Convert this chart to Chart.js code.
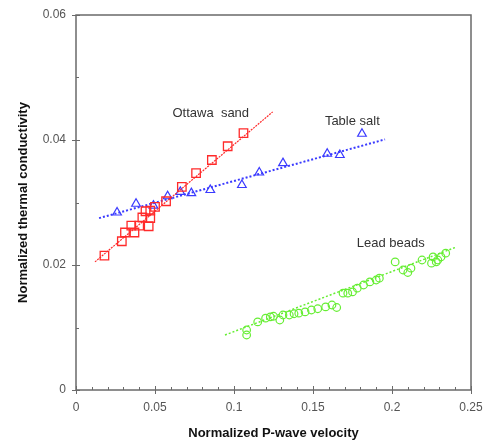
<!DOCTYPE html>
<html lang="en">
<head>
  <meta charset="UTF-8">
  <title>Thermal conductivity vs P-wave velocity</title>
  <style>
    html, body { margin: 0; padding: 0; background: white; }
    .chartBox { position: relative; width: 486px; height: 441px; }
  </style>
</head>
<body>
  <div class="chartBox">
    <canvas id="myChart" width="486" height="441"></canvas>
  </div>

<script src="https://cdn.jsdelivr.net/npm/chart.js/dist/chart.umd.min.js"></script>
<script>
  // Ottawa sand (squares)
  const sandX = [0.018, 0.029, 0.031, 0.035, 0.037, 0.040, 0.042, 0.044, 0.046, 0.047, 0.047, 0.050, 0.057, 0.067, 0.076, 0.086, 0.096, 0.106];
  const sandY = [0.0215, 0.0238, 0.0252, 0.0263, 0.0252, 0.0263, 0.0276, 0.0286, 0.0262, 0.0275, 0.0287, 0.0293, 0.0302, 0.0325, 0.0347, 0.0368, 0.0390, 0.0411];
  const sandFitX = [0.012, 0.1245];
  const sandFitY = [0.0205, 0.0445];

  // Table salt (triangles)
  const saltX = [0.026, 0.038, 0.049, 0.058, 0.066, 0.073, 0.085, 0.105, 0.116, 0.131, 0.159, 0.167, 0.181];
  const saltY = [0.0284, 0.0298, 0.0295, 0.0310, 0.0317, 0.0315, 0.0320, 0.0328, 0.0348, 0.0363, 0.0378, 0.0376, 0.0410];
  const saltFitX = [0.0146, 0.1956];
  const saltFitY = [0.0275, 0.0401];

  // Lead beads (circles)
  const leadX = [0.108, 0.108, 0.115, 0.120, 0.123, 0.125, 0.129, 0.131, 0.135, 0.138, 0.141, 0.145, 0.149, 0.153, 0.158, 0.162, 0.165,
                 0.169, 0.172, 0.175, 0.178, 0.182, 0.186, 0.190, 0.192, 0.202, 0.207, 0.210, 0.212, 0.219, 0.225, 0.226, 0.228, 0.229, 0.231, 0.234];
  const leadY = [0.0096, 0.0088, 0.0109, 0.0115, 0.0117, 0.0118, 0.0112, 0.0120, 0.0120, 0.0122, 0.0123, 0.0125, 0.0128, 0.0130, 0.0133, 0.0136, 0.0132,
                 0.0155, 0.0155, 0.0157, 0.0163, 0.0168, 0.0173, 0.0176, 0.0179, 0.0205, 0.0192, 0.0188, 0.0195, 0.0208, 0.0203, 0.0213, 0.0205, 0.0208, 0.0213, 0.0219];
  const leadFitX = [0.0943, 0.241];
  const leadFitY = [0.0088, 0.0229];

  const xTicks = [0, 0.05, 0.1, 0.15, 0.2, 0.25];
  const yTicks = [0, 0.02, 0.04, 0.06];
  const xMinor = [0.01, 0.02, 0.03, 0.04, 0.06, 0.07, 0.08, 0.09, 0.11, 0.12, 0.13, 0.14, 0.16, 0.17, 0.18, 0.19, 0.21, 0.22, 0.23, 0.24];
  const yMinor = [0.01, 0.03, 0.05];

  const labels = [
    { text: 'Ottawa  sand', x: 0.0853, y: 0.0442 },
    { text: 'Table salt', x: 0.1749, y: 0.0430 },
    { text: 'Lead beads', x: 0.1992, y: 0.0235 }
  ];

  const pts = (xs, ys) => xs.map((x, i) => ({ x: x, y: ys[i] }));

  const RED = '#ff2a2a', BLUE = '#3a3aff', GREEN = '#66ee33';
  const FRAME = '#6a6a6a';

  // frame, tick marks and text labels
  const decor = {
    id: 'decor',
    afterDraw(chart) {
      const ctx = chart.ctx;
      const { left, right, top, bottom } = chart.chartArea;
      const xs = chart.scales.x, ys = chart.scales.y;
      ctx.save();
      ctx.strokeStyle = FRAME;
      ctx.lineWidth = 1.5;
      ctx.strokeRect(left, top, right - left, bottom - top);
      ctx.lineWidth = 1;
      ctx.beginPath();
      xTicks.forEach(v => {
        const p = Math.round(xs.getPixelForValue(v)) + 0.5;
        ctx.moveTo(p, bottom - 4); ctx.lineTo(p, bottom + 4);
      });
      xMinor.forEach(v => {
        const p = Math.round(xs.getPixelForValue(v)) + 0.5;
        ctx.moveTo(p, bottom - 3); ctx.lineTo(p, bottom);
      });
      yTicks.forEach(v => {
        const p = Math.round(ys.getPixelForValue(v)) + 0.5;
        ctx.moveTo(left - 4, p); ctx.lineTo(left + 4, p);
      });
      yMinor.forEach(v => {
        const p = Math.round(ys.getPixelForValue(v)) + 0.5;
        ctx.moveTo(left, p); ctx.lineTo(left + 3, p);
      });
      ctx.stroke();

      ctx.fillStyle = '#333';
      ctx.font = '13px "Liberation Sans", Arial, sans-serif';
      ctx.textAlign = 'center';
      ctx.textBaseline = 'middle';
      labels.forEach(l => {
        ctx.fillText(l.text, xs.getPixelForValue(l.x), ys.getPixelForValue(l.y));
      });
      ctx.restore();
    }
  };

  const data = {
    datasets: [
      { label: 'Ottawa sand', data: pts(sandX, sandY), pointStyle: 'rect', pointRadius: 6,
        borderColor: RED, backgroundColor: 'transparent', borderWidth: 1.3 },
      { label: 'Ottawa fit', data: pts(sandFitX, sandFitY), showLine: true, pointRadius: 0,
        borderColor: RED, borderWidth: 1.2, borderDash: [2, 1] },
      { label: 'Table salt', data: pts(saltX, saltY), pointStyle: 'triangle', pointRadius: 5,
        borderColor: BLUE, backgroundColor: 'transparent', borderWidth: 1.2 },
      { label: 'Salt fit', data: pts(saltFitX, saltFitY), showLine: true, pointRadius: 0,
        borderColor: BLUE, borderWidth: 2, borderDash: [2, 2] },
      { label: 'Lead beads', data: pts(leadX, leadY), pointStyle: 'circle', pointRadius: 3.8,
        borderColor: GREEN, backgroundColor: 'transparent', borderWidth: 1.2 },
      { label: 'Lead fit', data: pts(leadFitX, leadFitY), showLine: true, pointRadius: 0,
        borderColor: GREEN, borderWidth: 1.5, borderDash: [2, 2] }
    ]
  };

  const tickFont = { family: '"Liberation Sans", Arial, sans-serif', size: 12 };
  const titleFont = { family: '"Liberation Sans", Arial, sans-serif', size: 13, weight: 'bold' };

  const config = {
    type: 'scatter',
    data,
    options: {
      responsive: false,
      animation: false,
      layout: { padding: { top: 15, right: 15, left: 12, bottom: 0 } },
      scales: {
        x: {
          type: 'linear', min: 0, max: 0.25,
          afterBuildTicks: s => { s.ticks = xTicks.map(v => ({ value: v })); },
          afterFit: s => { s.height = 51; },
          grid: { display: false },
          border: { display: false },
          ticks: { color: '#555', font: tickFont, padding: 2, maxRotation: 0, callback: v => String(v) },
          title: { display: true, text: 'Normalized P-wave velocity', color: '#111', font: titleFont, padding: { top: 4, bottom: 0 } }
        },
        y: {
          type: 'linear', min: 0, max: 0.06,
          afterBuildTicks: s => { s.ticks = yTicks.map(v => ({ value: v })); },
          afterFit: s => { s.width = 64; },
          grid: { display: false },
          border: { display: false },
          ticks: { color: '#555', font: tickFont, padding: 2, callback: v => String(v) },
          title: { display: true, text: 'Normalized thermal conductivity', color: '#111', font: titleFont, padding: { bottom: 6 } }
        }
      },
      plugins: {
        legend: { display: false },
        tooltip: { enabled: false }
      }
    },
    plugins: [decor]
  };

  const myChart = new Chart(document.getElementById('myChart'), config);
</script>
</body>
</html>
